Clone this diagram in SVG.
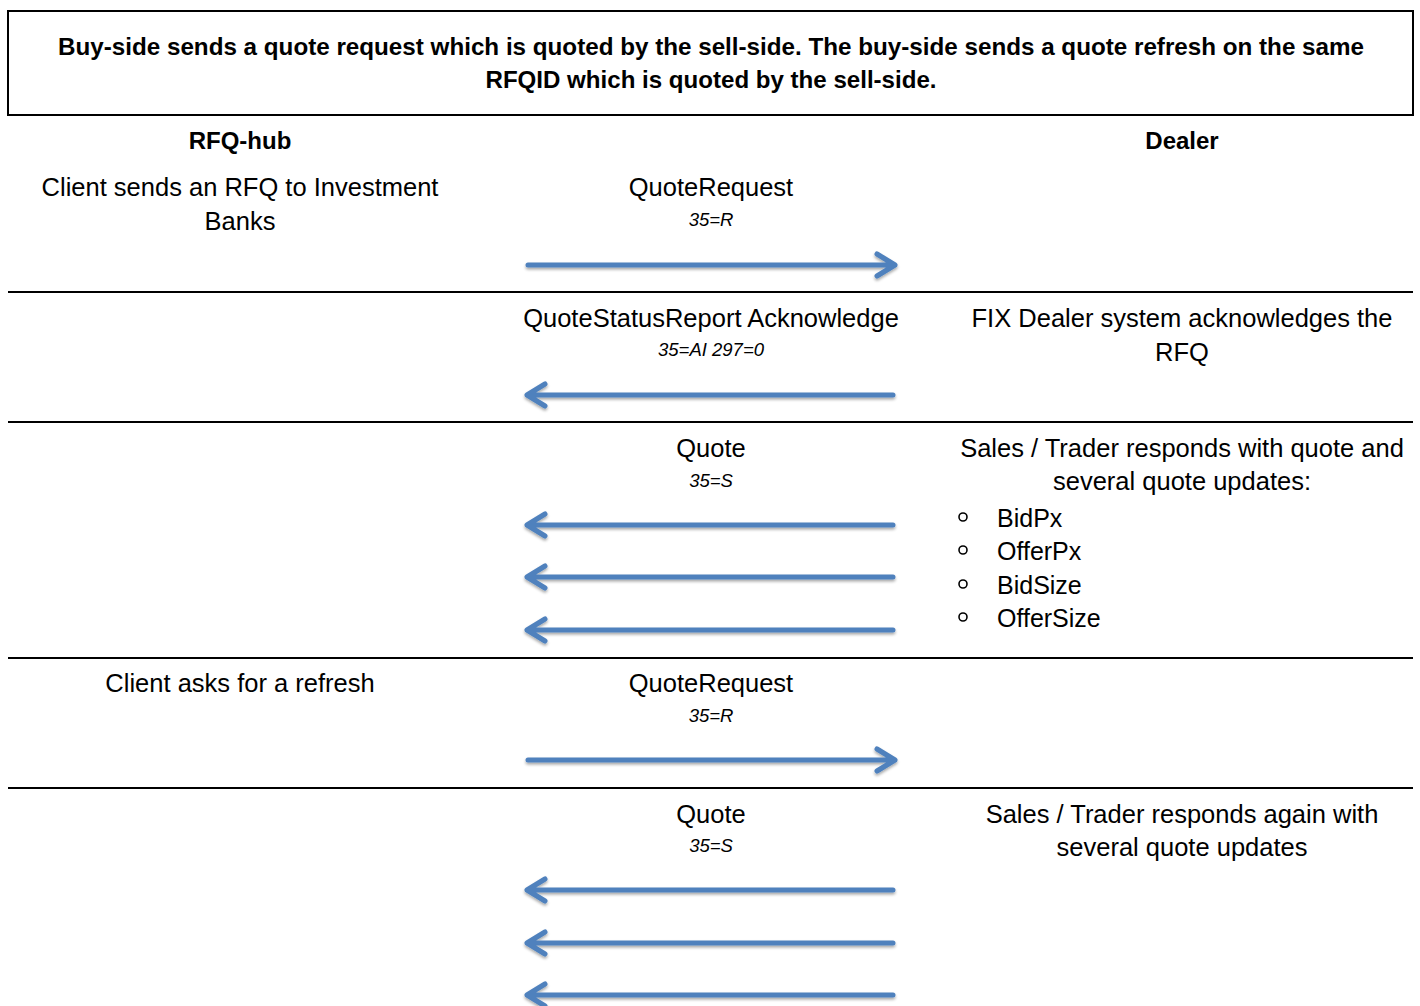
<svg xmlns="http://www.w3.org/2000/svg" width="1420" height="1006" viewBox="0 0 1420 1006">
<style>
text{font-family:"Liberation Sans",Arial,sans-serif;fill:#000;}
.t{font-size:25.5px;text-anchor:middle;}
.l{font-size:25px;}
.b{font-size:24px;font-weight:bold;text-anchor:middle;}
.s{font-size:18.5px;font-style:italic;text-anchor:middle;}
.sep{stroke:#000;stroke-width:2;}
.arr{stroke:#4F81BD;stroke-width:5;fill:none;stroke-linecap:round;stroke-linejoin:round;filter:url(#sh);}
</style>
<defs>
<filter id="sh" x="-5%" y="-100%" width="110%" height="300%">
<feGaussianBlur in="SourceAlpha" stdDeviation="1.5"/>
<feOffset dy="2" result="o"/>
<feComponentTransfer><feFuncA type="linear" slope="0.35"/></feComponentTransfer>
<feMerge><feMergeNode/><feMergeNode in="SourceGraphic"/></feMerge>
</filter>
</defs>
<g id="title">
<rect x="8" y="11" width="1405" height="104" fill="#fff" stroke="#000" stroke-width="2"/>
<text class="b" x="711" y="55" textLength="1306" lengthAdjust="spacingAndGlyphs">Buy-side sends a quote request which is quoted by the sell-side. The buy-side sends a quote refresh on the same</text>
<text class="b" x="711" y="88" textLength="451" lengthAdjust="spacingAndGlyphs">RFQID which is quoted by the sell-side.</text>
</g>
<g id="headers">
<text class="b" x="240" y="149">RFQ-hub</text>
<text class="b" x="1182" y="149">Dealer</text>
</g>
<g id="separators">
<line class="sep" x1="8" y1="292" x2="1413" y2="292"/>
<line class="sep" x1="8" y1="422" x2="1413" y2="422"/>
<line class="sep" x1="8" y1="658" x2="1413" y2="658"/>
<line class="sep" x1="8" y1="788" x2="1413" y2="788"/>
</g>
<g id="row1">
<text class="t" x="240" y="196">Client sends an RFQ to Investment</text>
<text class="t" x="240" y="230">Banks</text>
<text class="t" x="711" y="196">QuoteRequest</text>
<text class="s" x="711" y="226">35=R</text>
</g>
<g id="row2">
<text class="t" x="711" y="327">QuoteStatusReport Acknowledge</text>
<text class="s" x="711" y="356">35=AI 297=0</text>
<text class="t" x="1182" y="327">FIX Dealer system acknowledges the</text>
<text class="t" x="1182" y="361">RFQ</text>
</g>
<g id="row3">
<text class="t" x="711" y="457">Quote</text>
<text class="s" x="711" y="487">35=S</text>
<text class="t" x="1182" y="457">Sales / Trader responds with quote and</text>
<text class="t" x="1182" y="490">several quote updates:</text>
<g fill="none" stroke="#000" stroke-width="1.6">
<circle cx="963" cy="517" r="4"/>
<circle cx="963" cy="550" r="4"/>
<circle cx="963" cy="584" r="4"/>
<circle cx="963" cy="617" r="4"/>
</g>
<text class="l" x="997" y="527">BidPx</text>
<text class="l" x="997" y="560">OfferPx</text>
<text class="l" x="997" y="594">BidSize</text>
<text class="l" x="997" y="627">OfferSize</text>
</g>
<g id="row4">
<text class="t" x="240" y="692">Client asks for a refresh</text>
<text class="t" x="711" y="692">QuoteRequest</text>
<text class="s" x="711" y="722">35=R</text>
</g>
<g id="row5">
<text class="t" x="711" y="823">Quote</text>
<text class="s" x="711" y="852">35=S</text>
<text class="t" x="1182" y="823">Sales / Trader responds again with</text>
<text class="t" x="1182" y="856">several quote updates</text>
</g>
<g id="connectors">
<path class="arr" d="M528 265 H895 M877 254 L895 265 L877 276"/>
<path class="arr" d="M893 395 H527 M545 384 L527 395 L545 406"/>
<path class="arr" d="M893 525 H527 M545 514 L527 525 L545 536"/>
<path class="arr" d="M893 577 H527 M545 566 L527 577 L545 588"/>
<path class="arr" d="M893 630 H527 M545 619 L527 630 L545 641"/>
<path class="arr" d="M528 760 H895 M877 749 L895 760 L877 771"/>
<path class="arr" d="M893 890 H527 M545 879 L527 890 L545 901"/>
<path class="arr" d="M893 943 H527 M545 932 L527 943 L545 954"/>
<path class="arr" d="M893 995 H527 M545 984 L527 995 L545 1006"/>
</g>
</svg>
